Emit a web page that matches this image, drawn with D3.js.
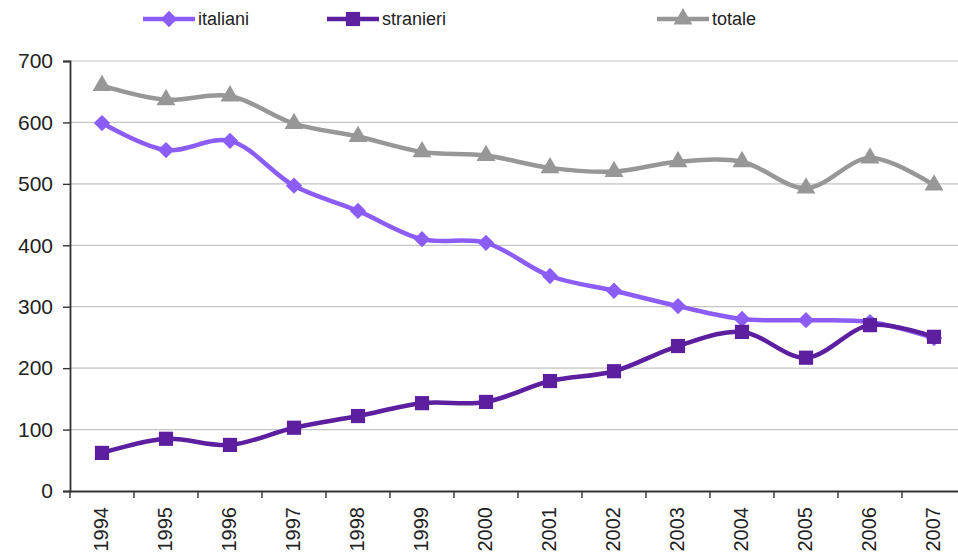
<!DOCTYPE html>
<html>
<head>
<meta charset="utf-8">
<script src="https://cdn.jsdelivr.net/npm/d3@7"></script>
<style>
  html, body { margin: 0; padding: 0; background: #fff; }
  svg { display: block; font-family: "Liberation Sans", Arial, sans-serif; }
</style>
</head>
<body>
<svg id="chart" width="958" height="557"></svg>
<script>
const years = ["1994","1995","1996","1997","1998","1999","2000","2001","2002","2003","2004","2005","2006","2007"];
const italiani = [599, 555, 570, 497, 456, 410, 404, 350, 326, 301, 280, 278, 275, 249];
const stranieri = [62, 85, 75, 103, 122, 143, 145, 179, 195, 236, 259, 217, 270, 251];
const totale = [660, 637, 643, 598, 577, 552, 546, 526, 520, 536, 536, 493, 542, 498];
const yTicks = [0, 100, 200, 300, 400, 500, 600, 700];
const seriesNames = ["italiani", "stranieri", "totale"];

(function () {
const colors = { italiani: "#8b5cf6", stranieri: "#5b1f9f", totale: "#979797" };
const symbols = { italiani: d3.symbolDiamond2, stranieri: d3.symbolSquare2, totale: d3.symbolTriangle2 };
const symSize = { italiani: 13, stranieri: 16, totale: 16 };
const seriesData = { italiani, stranieri, totale };

const svg = d3.select("#chart");
const mLeft = 70, mRight = 966, mTop = 61, mBottom = 491;

const x = d3.scaleBand().domain(years).range([mLeft, mRight]).padding(0);
const y = d3.scaleLinear().domain([0, 700]).range([mBottom, mTop]);

// gridlines
svg.append("g").selectAll("line").data(yTicks.filter(d => d > 0)).join("line")
  .attr("x1", mLeft).attr("x2", 958)
  .attr("y1", d => y(d)).attr("y2", d => y(d))
  .attr("stroke", "#c4c4c4").attr("stroke-width", 1.2);

// y axis
const yAxis = svg.append("g").attr("transform", `translate(${mLeft},0)`)
  .call(d3.axisLeft(y).tickValues(yTicks).tickSize(7).tickPadding(10));
yAxis.select(".domain").attr("stroke", "#333").attr("stroke-width", 1.8);
yAxis.selectAll(".tick line").attr("stroke", "#333").attr("stroke-width", 1.4);
yAxis.selectAll(".tick text").attr("font-size", 21).attr("fill", "#222")
  .attr("font-family", "'Liberation Sans', Arial, sans-serif");

// x axis
const xAxis = svg.append("g").attr("transform", `translate(0,${mBottom})`)
  .call(d3.axisBottom(x).tickSize(0).tickSizeOuter(0));
xAxis.select(".domain").attr("stroke", "#333").attr("stroke-width", 1.8);
xAxis.selectAll(".tick text")
  .attr("font-size", 20).attr("fill", "#222")
  .attr("font-family", "'Liberation Sans', Arial, sans-serif")
  .attr("text-anchor", "end")
  .attr("transform", "translate(-1,16) rotate(-90)")
  .attr("x", 0).attr("y", 0).attr("dy", "0.35em");
// tick marks at band boundaries
svg.append("g").selectAll("line").data(years).join("line")
  .attr("x1", d => x(d)).attr("x2", d => x(d))
  .attr("y1", mBottom).attr("y2", mBottom + 7)
  .attr("stroke", "#333").attr("stroke-width", 1.4);

const cx = d => x(d) + x.bandwidth() / 2;
const line = d3.line().curve(d3.curveCatmullRom.alpha(0.5))
  .x((d, i) => cx(years[i])).y(d => y(d));

const drawOrder = ["totale", "italiani", "stranieri"];
drawOrder.forEach(name => {
  const g = svg.append("g");
  g.append("path").datum(seriesData[name])
    .attr("d", line).attr("fill", "none")
    .attr("stroke", colors[name]).attr("stroke-width", 4.5)
    .attr("stroke-linejoin", "round");
  g.selectAll("path.m").data(seriesData[name]).join("path").attr("class", "m")
    .attr("transform", (d, i) => `translate(${cx(years[i])},${y(d)})`)
    .attr("d", d3.symbol().type(symbols[name]).size(symSize[name] * symSize[name]))
    .attr("fill", colors[name]);
});

// legend
const legendItems = [
  { name: "italiani", x0: 143 },
  { name: "stranieri", x0: 327 },
  { name: "totale", x0: 657 }
];
const ly = 19;
const lg = svg.append("g");
legendItems.forEach(it => {
  lg.append("line").attr("x1", it.x0).attr("x2", it.x0 + 52)
    .attr("y1", ly).attr("y2", ly)
    .attr("stroke", colors[it.name]).attr("stroke-width", 4.5);
  lg.append("path").attr("transform", `translate(${it.x0 + 26},${ly})`)
    .attr("d", d3.symbol().type(symbols[it.name]).size(symSize[it.name] * symSize[it.name]))
    .attr("fill", colors[it.name]);
  lg.append("text").attr("x", it.x0 + 55).attr("y", ly).attr("dy", "0.35em")
    .attr("font-size", 18).attr("fill", "#222").text(it.name);
});
})();
</script>
</body>
</html>
